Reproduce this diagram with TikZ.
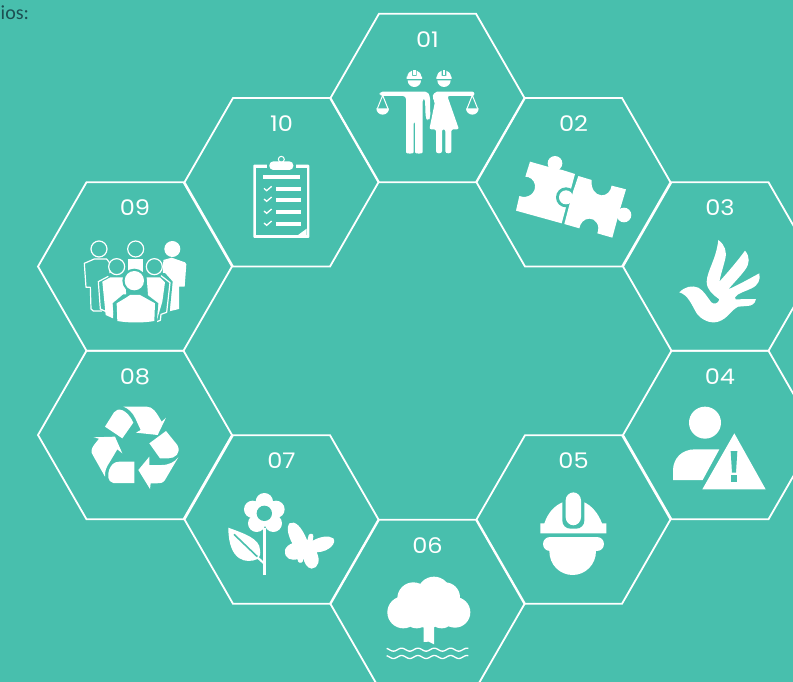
\documentclass[tikz,border=0pt]{standalone}
\usepackage{fontspec}
\setmainfont{Carlito}
\newfontfamily\lab[FakeStretch=1.12]{Poppins}
\definecolor{bgc}{HTML}{48BFAD}
\definecolor{inkc}{HTML}{1C4F52}
\tikzset{
  hexline/.style={draw=white,line width=1.8pt,line join=miter},
  numlabel/.style={text=white,font=\lab\fontsize{21.5}{23}\selectfont,inner sep=0pt,anchor=center},
  zm/.style 2 args={shift={(#1,#2)},x=0.33333pt,y=-0.33333pt},
  wh/.style={fill=white,draw=none},
  gap/.style={fill=bgc,draw=none},
  ol/.style={draw=white,line width=1.2pt,fill=bgc,line join=round},
}
\newcommand{\hexa}[3]{%
  \draw[hexline] (#1-97,#2) -- (#1-48.5,#2-84.25) -- (#1+48.5,#2-84.25) -- (#1+97,#2) -- (#1+48.5,#2+84.25) -- (#1-48.5,#2+84.25) -- cycle;
  \node[numlabel] (n#3) at (#1,#2-58.5) {#3};
}
\begin{document}
\begin{tikzpicture}[x=1pt,y=-1pt]
\useasboundingbox (0,0) rectangle (793,682);
\clip (0,0) rectangle (793,682);
\fill[bgc] (0,0) rectangle (793,682);
\node[anchor=base west,inner sep=0pt,text=inkc,font=\fontsize{20}{21}\selectfont] (intro) at (0.5,20) {ios:};
\hexa{427.5}{98}{01}
\hexa{573.5}{182.25}{02}
\hexa{720}{266.5}{03}
\hexa{720}{435}{04}
\hexa{573.5}{519.5}{05}
\hexa{427.5}{604}{06}
\hexa{281.5}{519.5}{07}
\hexa{135}{435}{08}
\hexa{135}{266.5}{09}
\hexa{281.5}{182.25}{10}

% 01 people with scales
\begin{scope}[zm={370}{60}]
 \foreach \c in {133,222}{
  \fill[wh] (\c-21,50) .. controls (\c-20,40) and (\c-14,34) .. (\c-7,32) -- (\c-7,48) -- (\c+7,48) -- (\c+7,32) .. controls (\c+14,34) and (\c+20,40) .. (\c+21,50) -- (\c+23,50) -- (\c+23,57) -- (\c-23,57) -- (\c-23,50) -- cycle;
  \fill[wh] (\c-4,29) rectangle (\c+4,45);
  \fill[wh] (\c-20,61) -- (\c+20,61) arc[start angle=0,end angle=180,radius=20] -- cycle;
 }
 % man
 \fill[wh,rounded corners=3] (29,95) -- (160,95) -- (172,95) -- (180,108) -- (181,172) -- (175,182) -- (167,175) -- (165,115) -- (158,115) -- (158,265) -- (158,268) .. controls (158,282) and (135,282) .. (135,268) -- (135,182) -- (131,182) -- (131,268) .. controls (131,282) and (108,282) .. (108,268) -- (108,108) -- (29,108) -- cycle;
 % woman
 \fill[wh,rounded corners=2] (313,95) -- (313,108) -- (232,108) -- (267,208) -- (244,208) -- (244,268) .. controls (244,282) and (226,282) .. (226,268) -- (226,208) -- (216,208) -- (216,268) .. controls (216,282) and (198,282) .. (198,268) -- (198,208) -- (178,208) -- (195,125) -- (186,112) -- (195,95) -- cycle;
 % scales
 \foreach \c in {38,307}{
  \draw[white,line width=1pt] (\c,106) -- (\c-16,146) (\c,106) -- (\c+16,146);
  \fill[wh] (\c-19,145) -- (\c+19,145) arc[start angle=0,end angle=180,radius=19] -- cycle;
 }
\end{scope}

% 02 puzzle
\begin{scope}[zm={480}{100}]
 \fill[wh] (150,185) -- (203,200) -- (247,210) -- (285,222) -- (245,370) -- (108,332) -- (118,288) .. controls (145,298) and (168,278) .. (165,255) .. controls (162,238) and (148,230) .. (136,230) -- cycle;
 \fill[wh] (225,190) circle[radius=22];
 \fill[gap] (258,292) circle[radius=30];
 \fill[wh] (295,228) -- (335,240) .. controls (332,265) and (345,285) .. (365,286) .. controls (380,286) and (392,275) .. (395,257) -- (438,268) -- (420,328) -- (397,413) -- (352,400) .. controls (362,375) and (345,355) .. (328,356) .. controls (312,356) and (300,370) .. (298,385) -- (253,372) -- (268,315) -- (280,272) -- cycle;
 \fill[wh] (258,292) circle[radius=21];
 \fill[wh] (432,345) circle[radius=22];
\end{scope}

% 03 hand dove
\begin{scope}[zm={480}{100}]
 \fill[wh] (598,577) .. controls (615,560) and (635,555) .. (655,563) .. controls (672,572) and (682,592) .. (694,607) .. controls (702,615) and (716,610) .. (718,598)
  .. controls (700,585) and (680,570) .. (680,545) .. controls (682,510) and (708,480) .. (715,420) .. controls (735,435) and (742,455) .. (735,480) .. controls (730,500) and (722,525) .. (718,545)
  .. controls (745,515) and (775,480) .. (795,452) .. controls (810,470) and (810,490) .. (795,510) .. controls (780,530) and (760,550) .. (745,568)
  .. controls (775,555) and (810,535) .. (838,520) .. controls (842,540) and (835,555) .. (815,565) .. controls (795,575) and (775,578) .. (765,592)
  -- (767,598) -- (828,597) .. controls (825,612) and (815,618) .. (800,618) -- (775,620) .. controls (755,628) and (745,655) .. (715,665) .. controls (690,672) and (665,660) .. (650,640) .. controls (635,615) and (625,585) .. (598,577) -- cycle;
\end{scope}

% 04 person warning
\begin{scope}[zm={640}{350}]
 \fill[wh] (195,218) circle[radius=48];
 \fill[wh] (99,390) -- (99,360) .. controls (100,325) and (125,298) .. (165,298) -- (238,298) -- (188,390) -- cycle;
 \fill[wh] (283,250) -- (377,418) -- (187,418) -- cycle;
 \fill[gap] (272,303) -- (292,303) -- (288,368) -- (276,368) -- cycle;
 \fill[gap] (272,376) rectangle (292,395);
\end{scope}

% 05 helmet
\begin{scope}[zm={360}{440}]
 \fill[wh] (541,250) -- (553,250) .. controls (565,215) and (585,197) .. (607,187) -- (673,187) .. controls (695,197) and (715,220) .. (726,250) -- (739,250) -- (739,280) -- (541,280) -- cycle;
 \fill[gap,rounded corners=8] (607,150) rectangle (673,266);
 \fill[wh,rounded corners=8] (617,157) rectangle (663,256);
 \fill[wh] (570,312) circle[radius=21];
 \fill[wh] (711,312) circle[radius=21];
 \fill[wh] (570,291) rectangle (711,320);
 \fill[wh] (568,310) -- (708,310) -- (708,333) .. controls (708,375) and (675,405) .. (638,405) .. controls (600,405) and (568,375) .. (568,333) -- cycle;
\end{scope}

% 06 tree and water
\begin{scope}[zm={360}{440}]
 \foreach \a/\b/\r in {130/517/48,285/517/46,160/475/48,222/460/50,255/472/45,205/518/47,170/525/40,245/525/40}{
  \fill[wh] (\a,\b) circle[radius=\r];
 }
 \fill[wh] (130,480) rectangle (285,530);
 \fill[wh] (191,550) -- (222,550) -- (222,613) -- (206,605) -- (191,606) -- cycle;
 \foreach \w in {629,651}{
  \draw[white,line width=1.3pt] plot[domain=80:325,samples=70,smooth] (\x,{\w+4.5*sin((\x-80)*7.35-60)});
 }
\end{scope}

% 07 flower, leaf, butterfly
\begin{scope}[zm={30}{350}]
 \foreach \a/\b in {703/455,668/478,738/478,680/520,730/520}{
  \fill[wh] (\a,\b) circle[radius=26];
 }
 \fill[wh] (703,490) circle[radius=30];
 \fill[gap] (703,490) circle[radius=23];
 \fill[wh] (700,535) rectangle (707,675);
 \fill[wh] (595,533) .. controls (640,550) and (690,565) .. (690,600) .. controls (692,612) and (690,618) .. (687,622) -- (703,637) -- (703,645) -- (683,627) .. controls (650,642) and (595,635) .. (595,533) -- cycle;
 \draw[bgc,line width=1.6pt] (612,553) -- (682,620);
 % butterfly
 \fill[wh] (778,520) .. controls (795,510) and (815,530) .. (832,572) -- (836,556) .. controls (840,548) and (852,550) .. (850,560) -- (848,572) .. controls (870,560) and (895,555) .. (910,565) .. controls (920,578) and (900,605) .. (860,607) .. controls (872,630) and (865,655) .. (845,656) .. controls (830,655) and (822,635) .. (820,625) -- (818,635) .. controls (812,642) and (802,638) .. (803,628) .. controls (785,632) and (762,628) .. (765,600) .. controls (768,590) and (778,583) .. (787,580) .. controls (775,560) and (768,530) .. (778,520) -- cycle;
\end{scope}

% 08 recycling
\begin{scope}[zm={30}{350}]
 \fill[wh] (225,230) -- (252,187) .. controls (262,172) and (290,175) .. (310,218) -- (277,265) -- cycle;
 \fill[wh] (280,170) -- (350,170) .. controls (368,170) and (378,185) .. (395,215) -- (408,203) -- (383,255) -- (318,248) -- (332,240) -- (316,205) .. controls (308,188) and (295,175) .. (280,170) -- cycle;
 \fill[wh] (358,280) -- (408,243) -- (442,285) .. controls (455,310) and (435,325) .. (415,325) -- (390,325) -- cycle;
 \fill[wh] (445,322) -- (405,390) .. controls (398,400) and (390,400) .. (380,400) -- (362,400) -- (360,417) -- (325,360) -- (358,320) -- (358,345) -- (395,345) .. controls (418,345) and (435,335) .. (445,322) -- cycle;
 \fill[wh] (313,335) -- (313,399) -- (250,399) .. controls (232,395) and (232,375) .. (238,358) .. controls (243,345) and (252,335) .. (268,335) -- cycle;
 \fill[wh] (225,380) -- (190,318) .. controls (180,305) and (185,295) .. (192,285) -- (207,266) -- (190,262) -- (255,260) -- (277,310) -- (262,298) -- (240,335) .. controls (228,352) and (224,365) .. (225,380) -- cycle;
\end{scope}

% 09 group
\begin{scope}[zm={75}{235}]
 % back right
 \fill[wh] (292,42) circle[radius=24];
 \fill[wh] (265,75) -- (290,68) -- (330,82) -- (334,88) -- (329,155) -- (312,155) -- (312,222) -- (270,232) -- (262,150) -- cycle;
 % back middle
 \fill[wh] (158,72) rectangle (205,115);
 \draw[ol] (182,42) circle[radius=24];
 % back left
 \draw[ol] (28,85) -- (58,72) -- (95,72) -- (105,85) -- (105,160) -- (90,228) -- (55,228) -- (48,222) -- (46,157) -- (33,157) -- cycle;
 \draw[ol] (72,42) circle[radius=24];
 % front left
 \fill[gap] (66,135) -- (105,114) -- (150,114) -- (155,205) -- (120,205) -- (120,262) -- (85,252) -- cycle;
 \draw[white,line width=1.2pt,line join=round] (100,124) -- (70,140) -- (76,222) -- (98,232);
 \fill[wh] (82,140) -- (106,127) -- (150,127) -- (155,200) -- (118,200) -- (114,250) -- (92,240) -- cycle;
 \draw[ol] (125,95) circle[radius=24];
 % front right
 \fill[gap] (212,114) -- (270,114) -- (293,140) -- (283,240) -- (255,262) -- (225,262) -- cycle;
 \fill[wh] (215,127) -- (255,127) -- (270,142) -- (262,200) -- (245,258) -- (225,258) -- cycle;
 \draw[white,line width=1.2pt,line join=round] (258,122) -- (285,143) -- (275,232) -- (258,238) -- (256,256) -- (245,260);
 \draw[ol] (238,95) circle[radius=24];
 % front centre
 \fill[gap] (178,137) circle[radius=36];
 \fill[gap] (113,205) -- (145,178) -- (215,178) -- (250,205) -- (245,265) -- (118,265) -- cycle;
 \fill[wh] (178,137) circle[radius=29];
 \fill[wh] (125,205) -- (150,190) -- (165,180) -- (195,180) -- (240,205) -- (238,258) .. controls (205,264) and (160,264) .. (127,258) -- cycle;
\end{scope}

% 10 clipboard
\begin{scope}[zm={0}{90}]
 \fill[wh,rounded corners=1] (760,224) rectangle (928,444);
 \fill[gap] (768,234) rectangle (920,436);
 \fill[gap] (800,222) rectangle (888,236);
 \fill[wh,rounded corners=4] (808,214) rectangle (880,240);
 \draw[white,line width=1pt] (844,208) circle[radius=9];
 \fill[wh] (789,255) rectangle (900,267);
 \foreach \y in {292,324,360,396}{
  \fill[wh] (828,\y) rectangle (903,\y+12);
  \draw[white,line width=1.3pt] (792,\y+3) -- (800,\y+10) -- (815,\y-3);
 }
 \fill[wh] (893,436) -- (920,416) -- (920,436) -- cycle;
\end{scope}
\end{tikzpicture}
\end{document}
